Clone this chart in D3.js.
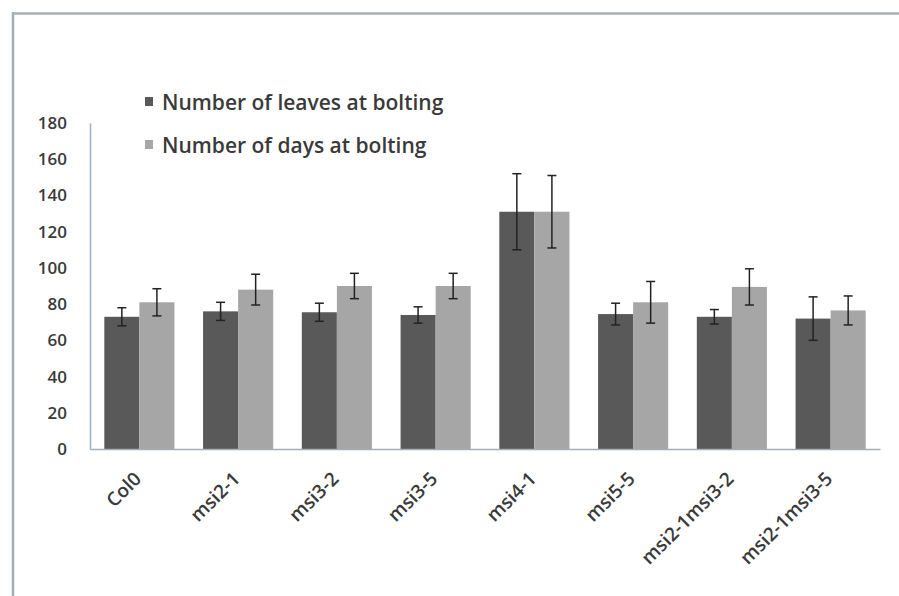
<!DOCTYPE html>
<html>
<head>
<meta charset="utf-8">
<script src="https://cdn.jsdelivr.net/npm/d3@7"></script>
<style>
  html, body { margin: 0; padding: 0; background: #fff; }
  svg { display: block; }
  text { font-family: "Open Sans", "Liberation Sans", sans-serif; font-weight: 600; }
</style>
</head>
<body>
<svg id="chart" width="899" height="596"></svg>
<script>
const categories = ["Col0", "msi2-1", "msi3-2", "msi3-5", "msi4-1", "msi5-5", "msi2-1msi3-2", "msi2-1msi3-5"];
const seriesNames = ["Number of leaves at bolting", "Number of days at bolting"];
const leaves = [73, 76, 75.5, 74, 131, 74.5, 73, 72];
const leavesErr = [5, 5, 5, 4.5, 21, 6, 4, 12];
const days = [81, 88, 90, 90, 131, 81, 89.5, 76.5];
const daysErr = [7.5, 8.5, 7, 7, 20, 11.5, 10, 8];
const yTicks = [0, 20, 40, 60, 80, 100, 120, 140, 160, 180];

const colors = ["#595959", "#a6a6a6"];
const svg = d3.select("#chart");

// outer frame
svg.append("line").attr("x1", 13).attr("x2", 899).attr("y1", 13.5).attr("y2", 13.5)
  .attr("stroke", "#a3afb8").attr("stroke-width", 2.5);
svg.append("line").attr("x1", 13).attr("x2", 13).attr("y1", 12).attr("y2", 596)
  .attr("stroke", "#a3afb8").attr("stroke-width", 2.5);

const left = 90, right = 880, yBottom = 449, yTop = 123;
const x0 = d3.scaleBand().domain(categories).range([left, right]).paddingInner(0.29).paddingOuter(0.145);
const x1 = d3.scaleBand().domain([0, 1]).range([0, x0.bandwidth()]);
const y = d3.scaleLinear().domain([0, 180]).range([yBottom, yTop]);

const data = categories.map((c, i) => ({
  cat: c,
  vals: [
    {s: 0, v: leaves[i], e: leavesErr[i]},
    {s: 1, v: days[i], e: daysErr[i]}
  ]
}));

// bars
const g = svg.append("g").selectAll("g").data(data).join("g")
  .attr("transform", d => `translate(${x0(d.cat)},0)`);
g.selectAll("rect").data(d => d.vals).join("rect")
  .attr("x", d => x1(d.s))
  .attr("width", x1.bandwidth())
  .attr("y", d => y(d.v))
  .attr("height", d => y(0) - y(d.v))
  .attr("fill", d => colors[d.s]);

// error bars
const eb = g.selectAll("g.err").data(d => d.vals).join("g").attr("class", "err")
  .attr("stroke", "#222").attr("stroke-width", 1.5);
eb.append("line")
  .attr("x1", d => x1(d.s) + x1.bandwidth() / 2).attr("x2", d => x1(d.s) + x1.bandwidth() / 2)
  .attr("y1", d => y(d.v + d.e)).attr("y2", d => y(d.v - d.e));
eb.append("line")
  .attr("x1", d => x1(d.s) + x1.bandwidth() / 2 - 4.5).attr("x2", d => x1(d.s) + x1.bandwidth() / 2 + 4.5)
  .attr("y1", d => y(d.v + d.e)).attr("y2", d => y(d.v + d.e));
eb.append("line")
  .attr("x1", d => x1(d.s) + x1.bandwidth() / 2 - 4.5).attr("x2", d => x1(d.s) + x1.bandwidth() / 2 + 4.5)
  .attr("y1", d => y(d.v - d.e)).attr("y2", d => y(d.v - d.e));

// y axis
const yAxis = svg.append("g").attr("transform", `translate(${left},0)`)
  .call(d3.axisLeft(y).tickValues(yTicks).tickSize(0).tickPadding(23));
yAxis.select(".domain").attr("stroke", "#9fb0bc").attr("stroke-width", 1.5);
yAxis.selectAll("text").attr("font-size", 17).attr("fill", "#3a3a3a");

// x axis
const xAxis = svg.append("g").attr("transform", `translate(0,${yBottom})`)
  .call(d3.axisBottom(x0).tickSize(0).tickPadding(0));
xAxis.select(".domain").attr("stroke", "#9fb0bc").attr("stroke-width", 1.5);
xAxis.selectAll("text")
  .attr("font-size", 19).attr("fill", "#3a3a3a")
  .attr("text-anchor", "end")
  .attr("dy", 0).attr("y", 0)
  .attr("transform", "translate(3,31) rotate(-45)");

// legend
const leg = svg.append("g");
seriesNames.forEach((name, i) => {
  const yy = 97 + i * 43;
  leg.append("rect").attr("x", 145).attr("y", yy).attr("width", 8).attr("height", 9).attr("fill", colors[i]);
  leg.append("text").attr("x", 162).attr("y", yy + 13).attr("font-size", 21).attr("fill", "#3a3a3a").text(name);
});
</script>
</body>
</html>
